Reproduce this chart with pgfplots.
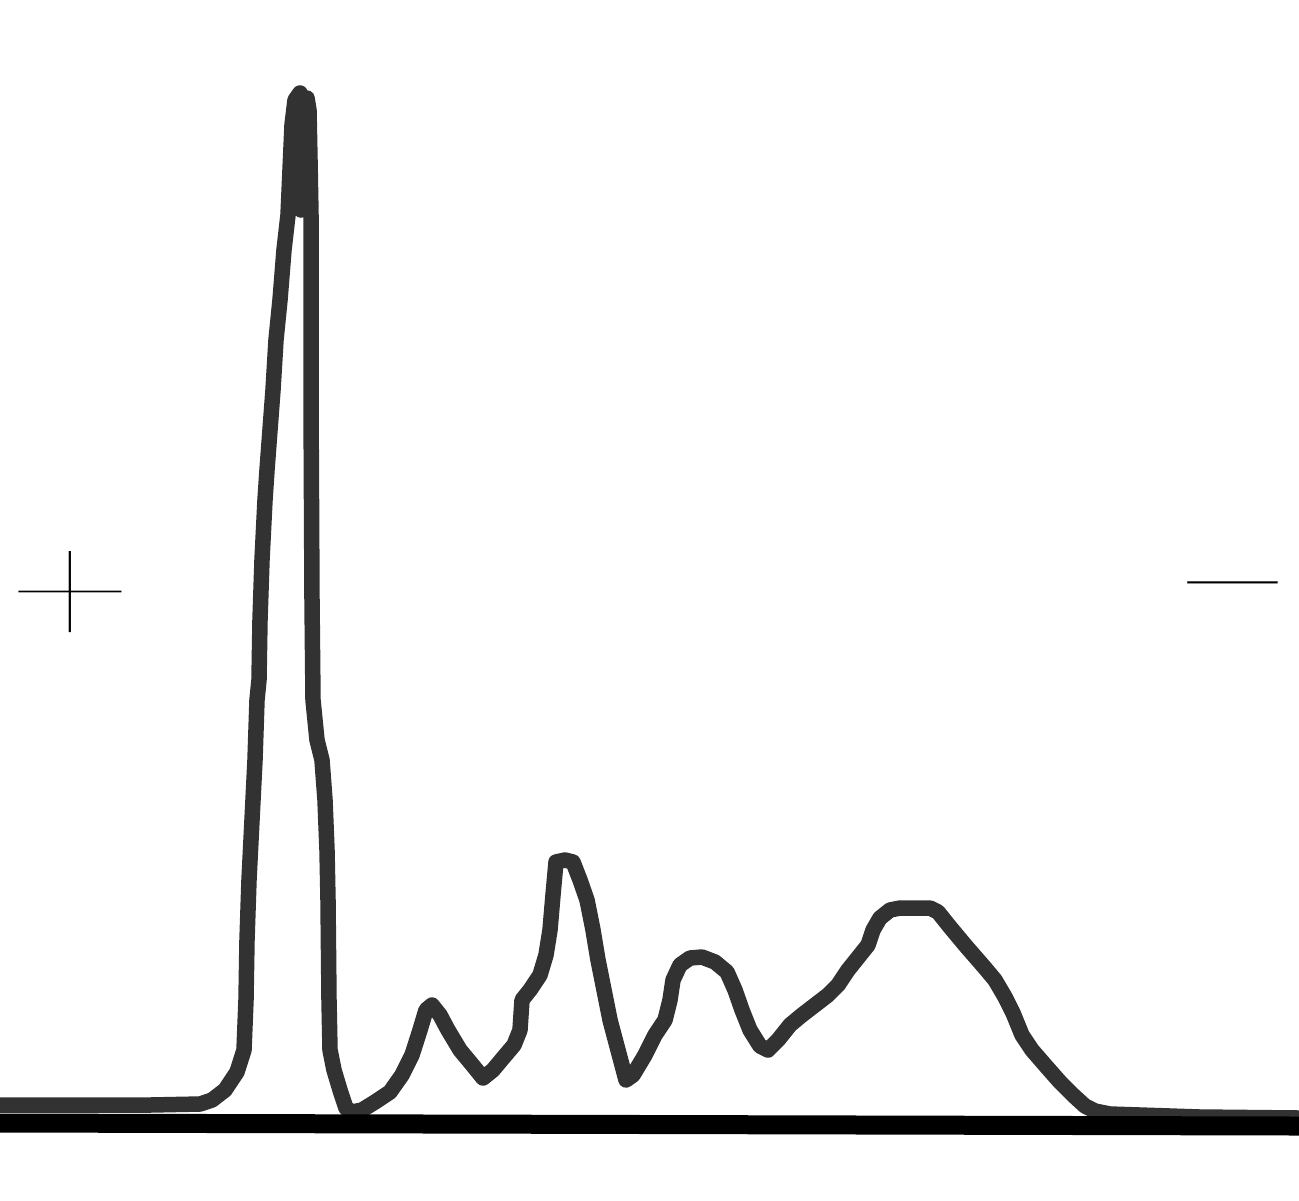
\documentclass[border=0pt]{standalone}
\usepackage{pgfplots}
\pgfplotsset{compat=1.18}
\usepackage{fontspec}
\newfontfamily\signfont{Lato Hairline}
\definecolor{curvegray}{RGB}{50,50,50}
\begin{document}
\begin{tikzpicture}
\path[use as bounding box] (0,0) rectangle (12.99cm,12cm);
\begin{axis}[
  width=12.99cm, height=12cm, scale only axis,
  xmin=0, xmax=1299, ymin=0, ymax=1200, y dir=reverse,
  axis lines=none, clip=true,
]
\addplot[curvegray, line width=1.55mm, line join=round, line cap=round] coordinates {
(0,1105) (150,1105) (200,1104) (212,1100) (225,1090) (237,1072) (244,1050)
(246,1000) (247,940) (249,880) (251,840) (253,800) (255,760) (257,700)
(259,680) (260,620) (262,560) (265,500) (267,470) (270,430) (273,390)
(276,340) (280,300) (284,250) (288,215) (290,170) (292,125) (295,100)
(300,93) (301,210) (303,100) (307,98) (309,110) (310,160) (311,215) (311,400) (312,600)
(313,700) (317,740) (322,760) (325,800) (327,850) (328,900) (329,1000)
(330,1050) (334,1070) (340,1090) (346,1108) (352,1112) (362,1110)
(375,1102) (390,1092) (402,1075) (412,1055) (420,1030) (426,1010)
(432,1005) (440,1015) (448,1030) (460,1050) (470,1062) (483,1078)
(493,1070) (503,1058) (514,1045) (520,1030) (522,1000) (530,990)
(540,975) (546,955) (550,930) (553,895) (556,862) (565,860) (573,862)
(580,880) (587,900) (593,930) (598,960) (603,985) (610,1020) (618,1050)
(626,1080) (633,1075) (645,1055) (655,1035) (665,1020) (670,1000)
(673,980) (680,965) (690,958) (702,957) (715,962) (727,972) (735,990)
(742,1010) (750,1030) (760,1046) (768,1050) (778,1040) (790,1025)
(802,1015) (815,1005) (828,995) (838,985) (848,970) (860,955) (868,945)
(873,930) (880,918) (890,910) (900,908) (930,908) (938,912) (950,927)
(965,945) (985,968) (995,980) (1005,997) (1013,1013) (1022,1035)
(1032,1050) (1045,1065) (1060,1082) (1073,1095) (1085,1106) (1095,1111)
(1110,1114) (1200,1117) (1299,1118)
};
\addplot[black, line width=1.9mm] coordinates {(0,1123) (1299,1126)};
\node[inner sep=0pt] at (axis cs:70,600) {\scalebox{1.06}[0.8]{\signfont\fontsize{60}{60}\selectfont +}};
\node[inner sep=0pt] at (axis cs:1233,618) {\scalebox{1.07}[1]{\signfont\fontsize{60}{60}\selectfont −}};
\end{axis}
\end{tikzpicture}
\end{document}
